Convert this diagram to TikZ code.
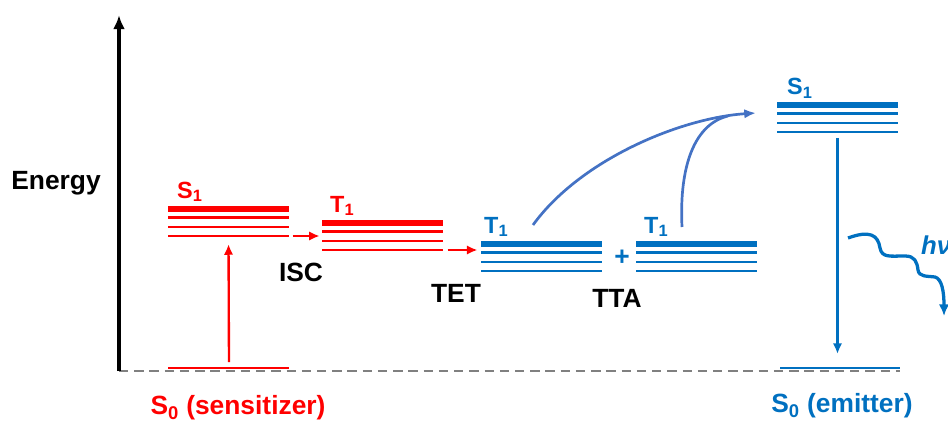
\documentclass[tikz,border=0pt]{standalone}
\usepackage{fontspec}
\setmainfont{Liberation Sans}
\usetikzlibrary{arrows.meta}
\definecolor{SensRed}{RGB}{255,0,0}
\definecolor{EmitBlue}{RGB}{0,112,192}
\definecolor{PathBlue}{RGB}{68,114,196}
\definecolor{BaseGray}{RGB}{128,128,128}
\NewDocumentCommand{\DrawLevelStack}{O{} m m m m}{%
    \def\LevelName{#2}
    \def\LevelLeft{#3}
    \def\LevelRight{#4}
    \def\LevelTop{#5}
    %
    \begin{scope}[#1]
        \draw [line width=4.8pt] (\LevelLeft,\LevelTop) -- (\LevelRight,\LevelTop);
        \draw [line width=2.8pt] (\LevelLeft,\LevelTop+8.5) -- (\LevelRight,\LevelTop+8.5);
        \draw [line width=2.2pt] (\LevelLeft,\LevelTop+18) -- (\LevelRight,\LevelTop+18);
        \draw [line width=1.6pt] (\LevelLeft,\LevelTop+27) -- (\LevelRight,\LevelTop+27);
    \end{scope}
    \coordinate (\LevelName-nw) at (\LevelLeft,\LevelTop);
    \coordinate (\LevelName-sw) at (\LevelLeft,\LevelTop+27);
    \coordinate (\LevelName-se) at (\LevelRight,\LevelTop+27);
    \coordinate (\LevelName-s) at ({(\LevelLeft+\LevelRight)/2},\LevelTop+27);
}

\begin{document}
\begin{tikzpicture}[
    x=0.03cm, y=-0.03cm,
    every node/.style={font=\bfseries\fontsize{22.5}{27}\selectfont, inner sep=0pt},
    state/.style={font=\bfseries\fontsize{20}{24}\selectfont, anchor=base west},
    transfer/.style={line width=2pt, -{Latex[length=9pt,width=8pt]}},
    ]
    \useasboundingbox (0,0) rectangle (948,422);

    % ground line and energy axis
    \draw [BaseGray, line width=2.4pt, dash pattern=on 8pt off 5pt] (119,371) -- (900,371);
    \draw [line width=3pt, -{Latex[length=12pt,width=10pt]}] (119,371) -- (119,15);
    \node (energy) at (56,183) {Energy};

    % sensitizer
    \draw [SensRed, line width=2.2pt] (168,368) -- (289,368);
    \coordinate (sensS0-c) at (229,368);
    \DrawLevelStack[SensRed]{sensS1}{168}{289}{209}
    \DrawLevelStack[SensRed]{sensT1}{322}{443}{223}
    \node [state, SensRed] (sensS1-label) at (177,198) {S\textsubscript{1}};
    \node [state, SensRed] (sensT1-label) at (330,212) {T\textsubscript{1}};
    \node [SensRed] (sensS0-label) at (238,408) {S\textsubscript{0} (sensitizer)};

    \draw [transfer, SensRed, shorten <=5pt, shorten >=7pt] (sensS0-c) -- (sensS1-s);
    \draw [transfer, SensRed, shorten <=3pt, shorten >=2pt] (sensS1-se) -- (sensT1-nw |- sensS1-se);
    \node (isc) at (301,272) {ISC};

    % emitter
    \DrawLevelStack[EmitBlue]{emT1a}{481}{602}{244}
    \DrawLevelStack[EmitBlue]{emT1b}{636}{757}{244}
    \DrawLevelStack[EmitBlue]{emS1}{777}{898}{105}
    \draw [EmitBlue, line width=1.8pt] (780,368) -- (900,368);
    \coordinate (emS0-c) at (837.5,368);
    \node [state, EmitBlue] (emT1a-label) at (484,233) {T\textsubscript{1}};
    \node [state, EmitBlue] (emT1b-label) at (644,233) {T\textsubscript{1}};
    \node [state, EmitBlue] (emS1-label) at (787,95) {S\textsubscript{1}};
    \node [EmitBlue] (plus) at (622,258) {+};
    \node [EmitBlue] (emS0-label) at (842,406) {S\textsubscript{0} (emitter)};

    \draw [transfer, SensRed, shorten <=4pt, shorten >=3pt] (sensT1-se) -- (emT1a-nw |- sensT1-se);
    \node (tet) at (456,293) {TET};
    \node (tta) at (617,298) {TTA};

    % annihilation
    \coordinate (ttaStartA) at (533,225);
    \coordinate (ttaStartB) at (682,227);
    \coordinate (ttaJoin) at (728,116);
    \coordinate (ttaEnd) at (756,113);
    \draw [PathBlue, line width=2.3pt, -{Latex[length=10pt,width=8pt]}] (ttaStartA) .. controls (580,160) and (680,118) .. (ttaEnd);
    \draw [PathBlue, line width=2.3pt] (ttaStartB) .. controls (679,165) and (695,124) .. (ttaJoin);

    % emission
    \draw [transfer, EmitBlue, shorten <=5pt, shorten >=12pt] (emS1-s) -- (emS0-c);
    \coordinate (hvStart) at (848,238);
    \coordinate (hvEnd) at (944,316);
    \draw [EmitBlue, line width=2.8pt, -{Latex[length=10pt,width=9pt]}] (hvStart)
        .. controls (870,230) and (878,235) .. (880,248)
        .. controls (882,258) and (890,256) .. (905,256)
        .. controls (915,256) and (917,262) .. (918,270)
        .. controls (919,277) and (927,276) .. (935,277)
        .. controls (942,279) and (944,292) .. (hvEnd);
    \node [EmitBlue, anchor=west, font=\bfseries\itshape\fontsize{22}{26}\selectfont] (hv) at (921,245) {hν};
\end{tikzpicture}
\end{document}
